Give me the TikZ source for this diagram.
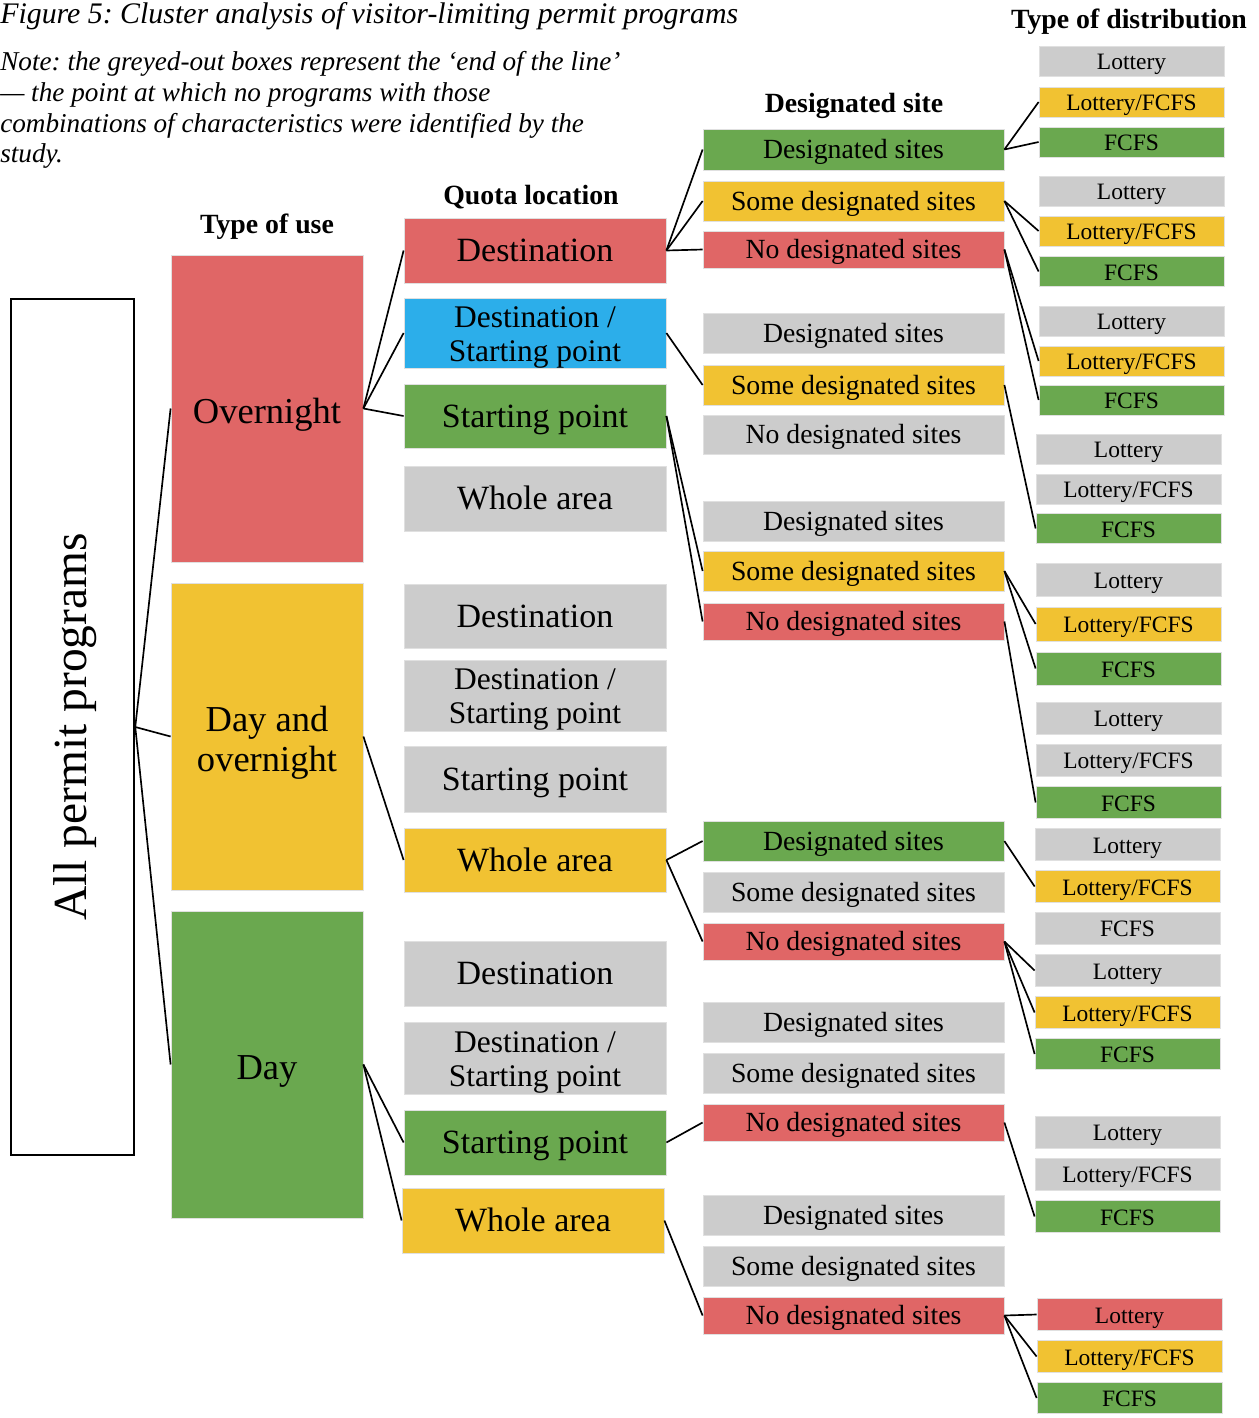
\documentclass[tikz,border=0pt]{standalone}
\usepackage{fontspec}
\setmainfont{Liberation Serif}
\frenchspacing
\definecolor{cRed}{HTML}{E06666}
\definecolor{cYel}{HTML}{F1C232}
\definecolor{cGrn}{HTML}{6AA84F}
\definecolor{cBlu}{HTML}{2CAEEA}
\definecolor{cGry}{HTML}{CCCCCC}
\newcommand\twolines[3]{\raisebox{#1}[\height][\depth]{\begin{tabular}{@{}c@{}}#2\\#3\end{tabular}}}
\begin{document}
\begin{tikzpicture}[x=0.75pt,y=-0.75pt,
  box/.style={draw=black!12, line width=0.6pt, inner sep=0pt, align=center, text=black},
  hh/.style={minimum height=#1*0.75pt},
  ww/.style={minimum width=#1*0.75pt},
  usebox/.style={box, ww=192, hh=307, font=\fontsize{27.4}{30}\selectfont},
  useone/.style={usebox, text height=21.9pt, text depth=0pt},
  quota/.style={box, ww=262, font=\fontsize{25.5}{25.5}\selectfont, text height=16.8pt, text depth=0pt},
  quotatwo/.style={box, ww=262, font=\fontsize{23.6}{25.5}\selectfont},
  des/.style={box, ww=301, font=\fontsize{20.8}{24}\selectfont, text height=14.1pt, text depth=0pt},
  dist/.style={box, ww=185, font=\fontsize{17.6}{20}\selectfont, text height=12.85pt, text depth=0pt},
  hdr/.style={font=\bfseries\fontsize{20.85}{24}\selectfont, inner sep=0pt, anchor=base},
  notetext/.style={font=\itshape\fontsize{20.4}{23}\selectfont, inner sep=0pt, anchor=base west},
  conn/.style={line width=1.25pt, black},
]
\fill[white] (0,0) rectangle (1258,1418);
\useasboundingbox (0,0) rectangle (1258,1418);

% title and note
\node[notetext, font=\itshape\fontsize{22.4}{25}\selectfont] (title) at (0,23) {Figure 5: Cluster analysis of visitor-limiting permit programs};
\node[notetext] (note1) at (0,70) {Note: the greyed-out boxes represent the ‘end of the line’};
\node[notetext] (note2) at (0,101) {— the point at which no programs with those};
\node[notetext] (note3) at (0,132) {combinations of characteristics were identified by the};
\node[notetext] (note4) at (0,162) {study.};

% headers
\node[hdr] (h1) at (267,233) {Type of use};
\node[hdr] (h2) at (531,204) {Quota location};
\node[hdr] (h3) at (854,112) {Designated site};
\node[hdr] (h4) at (1129,28) {Type of distribution};

% root
\node[draw=black, line width=1.9pt, fill=white, minimum width=123*0.75pt, minimum height=856*0.75pt, inner sep=0pt] (all) at (72.5,727)
  {\hspace*{4.5pt}\rotatebox{90}{\fontsize{35.6}{40}\selectfont All permit programs}};

% type of use
\node[useone, fill=cRed] (ovn) at (267,408.5) {Overnight};
\node[usebox, fill=cYel] (dao) at (267,736.5) {\twolines{-4.9pt}{Day and}{overnight}};
\node[useone, fill=cGrn] (day) at (267,1064.5) {Day};

% quota location
\node[quota, hh=65, fill=cRed] (q1) at (535,250.5) {Destination};
\node[quotatwo, hh=70, fill=cBlu] (q2) at (535,333) {\twolines{-3.2pt}{Destination /}{Starting point}};
\node[quota, hh=64, fill=cGrn] (q3) at (535,416) {Starting point};
\node[quota, hh=65, fill=cGry] (q4) at (535,498.5) {Whole area};
\node[quota, hh=64, fill=cGry] (q5) at (535,616) {Destination};
\node[quotatwo, hh=71, fill=cGry] (q6) at (535,695.5) {\twolines{-3.2pt}{Destination /}{Starting point}};
\node[quota, hh=66, fill=cGry] (q7) at (535,779) {Starting point};
\node[quota, hh=64, fill=cYel] (q8) at (535,860) {Whole area};
\node[quota, hh=65, fill=cGry] (q9) at (535,973.5) {Destination};
\node[quotatwo, hh=72, fill=cGry] (q10) at (535,1058) {\twolines{-3.2pt}{Destination /}{Starting point}};
\node[quota, hh=65, fill=cGrn] (q11) at (535,1142.5) {Starting point};
\node[quota, hh=65, fill=cYel] (q12) at (533,1220.5) {Whole area};

% designated site
\node[des, hh=41, fill=cGrn] (d1) at (853.5,149.5) {Designated sites};
\node[des, hh=40, fill=cYel] (d2) at (853.5,201) {Some designated sites};
\node[des, hh=37, fill=cRed] (d3) at (853.5,249.5) {No designated sites};
\node[des, hh=40, fill=cGry] (d4) at (853.5,333) {Designated sites};
\node[des, hh=40, fill=cYel] (d5) at (853.5,385) {Some designated sites};
\node[des, hh=39, fill=cGry] (d6) at (853.5,434.5) {No designated sites};
\node[des, hh=40, fill=cGry] (d7) at (853.5,521) {Designated sites};
\node[des, hh=40, fill=cYel] (d8) at (853.5,571) {Some designated sites};
\node[des, hh=37, fill=cRed] (d9) at (853.5,621.5) {No designated sites};
\node[des, hh=40, fill=cGrn] (d10) at (853.5,841) {Designated sites};
\node[des, hh=40, fill=cGry] (d11) at (853.5,892) {Some designated sites};
\node[des, hh=37, fill=cRed] (d12) at (853.5,941.5) {No designated sites};
\node[des, hh=40, fill=cGry] (d13) at (853.5,1022) {Designated sites};
\node[des, hh=40, fill=cGry] (d14) at (853.5,1073) {Some designated sites};
\node[des, hh=37, fill=cRed] (d15) at (853.5,1122.5) {No designated sites};
\node[des, hh=40, fill=cGry] (d16) at (853.5,1215) {Designated sites};
\node[des, hh=40, fill=cGry] (d17) at (853.5,1266) {Some designated sites};
\node[des, hh=37, fill=cRed] (d18) at (853.5,1315.5) {No designated sites};

% type of distribution
\node[dist, hh=30, fill=cGry] (a1) at (1131.5,61) {Lottery};
\node[dist, hh=30, fill=cYel] (b1) at (1131.5,102) {Lottery/FCFS};
\node[dist, hh=30, fill=cGrn] (c1) at (1131.5,142) {FCFS};
\node[dist, hh=30, fill=cGry] (a2) at (1131.5,191) {Lottery};
\node[dist, hh=30, fill=cYel] (b2) at (1131.5,231) {Lottery/FCFS};
\node[dist, hh=30, fill=cGrn] (c2) at (1131.5,271.5) {FCFS};
\node[dist, hh=30, fill=cGry] (a3) at (1131.5,321) {Lottery};
\node[dist, hh=30, fill=cYel] (b3) at (1131.5,361) {Lottery/FCFS};
\node[dist, hh=30, fill=cGrn] (c3) at (1131.5,400) {FCFS};
\node[dist, hh=30, fill=cGry] (a4) at (1128.5,449) {Lottery};
\node[dist, hh=30, fill=cGry] (b4) at (1128.5,489) {Lottery/FCFS};
\node[dist, hh=30, fill=cGrn] (c4) at (1128.5,528.5) {FCFS};
\node[dist, hh=33, fill=cGry] (a5) at (1128.5,579.5) {Lottery};
\node[dist, hh=34, fill=cYel] (b5) at (1128.5,624) {Lottery/FCFS};
\node[dist, hh=33, fill=cGrn] (c5) at (1128.5,668.5) {FCFS};
\node[dist, hh=32, fill=cGry] (a6) at (1128.5,718) {Lottery};
\node[dist, hh=32, fill=cGry] (b6) at (1128.5,760) {Lottery/FCFS};
\node[dist, hh=32, fill=cGrn] (c6) at (1128.5,802.5) {FCFS};
\node[dist, hh=32, fill=cGry] (a7) at (1127.5,844.5) {Lottery};
\node[dist, hh=32, fill=cYel] (b7) at (1127.5,886.5) {Lottery/FCFS};
\node[dist, hh=32, fill=cGry] (c7) at (1127.5,928) {FCFS};
\node[dist, hh=32, fill=cGry] (a8) at (1127.5,970.5) {Lottery};
\node[dist, hh=32, fill=cYel] (b8) at (1127.5,1012.5) {Lottery/FCFS};
\node[dist, hh=31, fill=cGrn] (c8) at (1127.5,1054) {FCFS};
\node[dist, hh=32, fill=cGry] (a9) at (1127.5,1132) {Lottery};
\node[dist, hh=32, fill=cGry] (b9) at (1127.5,1174) {Lottery/FCFS};
\node[dist, hh=32, fill=cGrn] (c9) at (1127.5,1216.5) {FCFS};
\node[dist, hh=32, fill=cRed] (a10) at (1129.5,1314.5) {Lottery};
\node[dist, hh=32, fill=cYel] (b10) at (1129.5,1356.5) {Lottery/FCFS};
\node[dist, hh=31, fill=cGrn] (c10) at (1129.5,1398) {FCFS};

% connectors
\draw[conn] (all.east) -- (ovn.west);
\draw[conn] (all.east) -- (dao.west);
\draw[conn] (all.east) -- (day.west);

\draw[conn] (ovn.east) -- (q1.west);
\draw[conn] (ovn.east) -- (q2.west);
\draw[conn] (ovn.east) -- (q3.west);
\draw[conn] (dao.east) -- (q8.west);
\draw[conn] (day.east) -- (q11.west);
\draw[conn] (day.east) -- (q12.west);

\draw[conn] (q1.east) -- (d1.west);
\draw[conn] (q1.east) -- (d2.west);
\draw[conn] (q1.east) -- (d3.west);
\draw[conn] (q2.east) -- (d5.west);
\draw[conn] (q3.east) -- (d8.west);
\draw[conn] (q3.east) -- (d9.west);
\draw[conn] (q8.east) -- (d10.west);
\draw[conn] (q8.east) -- (d12.west);
\draw[conn] (q11.east) -- (d15.west);
\draw[conn] (q12.east) -- (d18.west);

\draw[conn] (d1.east) -- (b1.west);
\draw[conn] (d1.east) -- (c1.west);
\draw[conn] (d2.east) -- (b2.west);
\draw[conn] (d2.east) -- (c2.west);
\draw[conn] (d3.east) -- (b3.west);
\draw[conn] (d3.east) -- (c3.west);
\draw[conn] (d5.east) -- (c4.west);
\draw[conn] (d8.east) -- (b5.west);
\draw[conn] (d8.east) -- (c5.west);
\draw[conn] (d9.east) -- (c6.west);
\draw[conn] (d10.east) -- (b7.west);
\draw[conn] (d12.east) -- (a8.west);
\draw[conn] (d12.east) -- (b8.west);
\draw[conn] (d12.east) -- (c8.west);
\draw[conn] (d15.east) -- (c9.west);
\draw[conn] (d18.east) -- (a10.west);
\draw[conn] (d18.east) -- (b10.west);
\draw[conn] (d18.east) -- (c10.west);
\end{tikzpicture}
\end{document}
